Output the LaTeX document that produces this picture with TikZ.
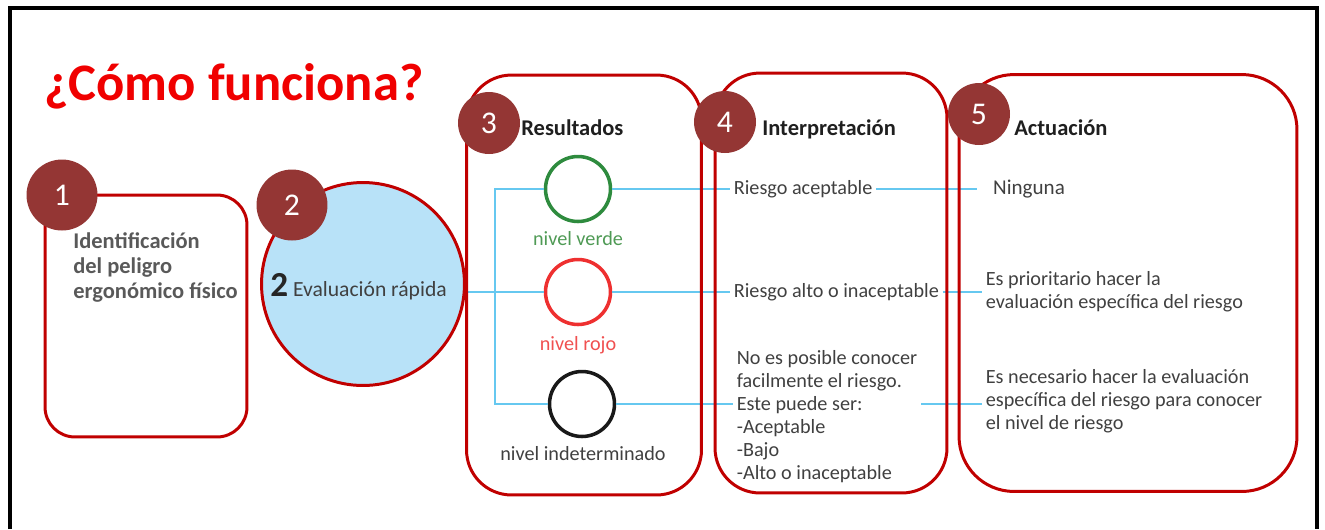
\documentclass[tikz,border=0pt]{standalone}
\usepackage{fontspec}
\setmainfont{Carlito}
\usetikzlibrary{positioning}

\definecolor{boxred}{HTML}{C00000}
\definecolor{badge}{HTML}{943634}
\definecolor{linkblue}{HTML}{66C8F0}
\definecolor{evalblue}{HTML}{B8E2F8}
\definecolor{txtgrey}{HTML}{404040}
\definecolor{titlered}{HTML}{F00000}
\definecolor{lampgreen}{HTML}{2E8B3E}
\definecolor{lampred}{HTML}{EE3030}
\definecolor{labgreen}{HTML}{4F9A55}
\definecolor{labred}{HTML}{F05050}

\begin{document}
\begin{tikzpicture}[x=0.02cm, y=-0.02cm,
		stage/.style={draw=boxred, line width=1.7pt, rounded corners=#1},
		stage/.default=0.9cm,
		num/.style={circle, fill=badge, text=white, inner sep=0pt, minimum size=#1, font=\fontsize{18}{18}\selectfont},
		num/.default=1.24cm,
		lamp/.style={circle, draw=#1, line width=2pt, minimum size=1.3cm, inner sep=0pt},
		head/.style={anchor=base west, inner sep=0pt, text=black!88, font=\fontsize{12.8}{14}\selectfont\bfseries},
		txt/.style={text=txtgrey, align=left, inner sep=2pt, font=\fontsize{11.5}{13}\selectfont},
		link/.style={draw=linkblue, line width=1.2pt}]
		\useasboundingbox (0,0) rectangle (1325,529);
		
		% frame and title
		\draw[line width=2.2pt] (10,529) -- (10,8) -- (1317,8) -- (1317,529);
		\node[anchor=base west, inner sep=0pt, text=titlered, font=\fontsize{30}{30}\selectfont\bfseries] (title) at (44,100) {¿Cómo funciona?};
		
		% quick evaluation
		\node[circle, draw=boxred, fill=evalblue, line width=1.7pt, minimum size=4.06cm, inner sep=0pt] (eval) at (363,284) {};
		\node[anchor=base west, inner sep=0pt, text=txtgrey, font=\fontsize{12.3}{14}\selectfont] (evaltxt) at (270,296) {{\color{black!85}\fontsize{20}{20}\selectfont\bfseries 2} Evaluación rápida};
		
		% lamps
		\node[lamp=lampgreen] (verde) at (578,189) {};
		\node[lamp=lampred] (rojo) at (578,292) {};
		\node[lamp=black!90] (indet) at (582,404) {};
		\node[txt, anchor=base, text=labgreen] (verdetxt) at (578,245) {nivel verde};
		\node[txt, anchor=base, text=labred] (rojotxt) at (578,350) {nivel rojo};
		\node[txt, anchor=base] (indettxt) at (583,460) {nivel indeterminado};
		
		% interpretation
		\node[txt, anchor=west] (aceptable) at (730,189) {Riesgo aceptable};
		\node[txt, anchor=west] (alto) at (730,292) {Riesgo alto o inaceptable};
		\node[txt, anchor=north west] (noposible) at (733,347) {No es posible conocer\\facilmente el riesgo.\\Este puede ser:\\-Aceptable\\-Bajo\\-Alto o inaceptable};
		
		% actions
		\node[txt, anchor=west, inner xsep=9pt, font=\fontsize{12}{13}\selectfont] (ninguna) at (977,189) {Ninguna};
		\node[txt, anchor=west] (prioritario) at (982,292) {Es prioritario hacer la\\evaluación específica del riesgo};
		\node[txt, anchor=west] (necesario) at (982,401) {Es necesario hacer la evaluación\\específica del riesgo para conocer\\el nivel de riesgo};
		
		% connectors
		\coordinate (bt) at (495,189);
		\coordinate (bb) at (495,404);
		\draw[link] (verde.west) -- (bt) -- (bb) -- (indet.west);
		\draw[link] (eval.east |- rojo) -- (rojo.west);
		\draw[link] (verde.east) -- (aceptable.west);
		\draw[link] (aceptable.east) -- (ninguna.west);
		\draw[link] (rojo.east) -- (alto.west);
		\draw[link] (alto.east) -- (prioritario.west);
		\draw[link] (indet.east) -- (indet -| noposible.west);
		\draw[link] (indet -| noposible.east) -- (indet -| necesario.west);
		
		% stage boxes
		\node[stage=0.6cm, minimum width=4.04cm, minimum height=4.84cm] (ident) at (146,316) {};
		\node[stage, minimum width=4.7cm, minimum height=8.4cm] (result) at (584,285) {};
		\node[stage, minimum width=4.64cm, minimum height=8.4cm] (interp) at (831,283) {};
		\node[stage=1.1cm, minimum width=6.76cm, minimum height=8.34cm] (action) at (1128,283) {};
		
		% box texts
		\node[anchor=north west, align=left, inner sep=0pt, text=black!65, font=\fontsize{12.8}{14.2}\selectfont\bfseries] (identtxt) at (73,232) {Identificación\\del peligro\\ergonómico físico};
		\node[head] (restitle) at (521,135) {Resultados};
		\node[head] (inttitle) at (762,135) {Interpretación};
		\node[head] (acttitle) at (1014,135) {Actuación};
		
		% step badges
		\foreach \n/\x/\y/\s in {1/62/195/1.42cm, 2/292/205/1.42cm, 3/489/123/1.24cm, 4/725/122/1.24cm, 5/979/114/1.24cm}{
			\node[num=\s] (n\n) at (\x,\y) {\n};
		}
		
\end{tikzpicture}
\end{document}
